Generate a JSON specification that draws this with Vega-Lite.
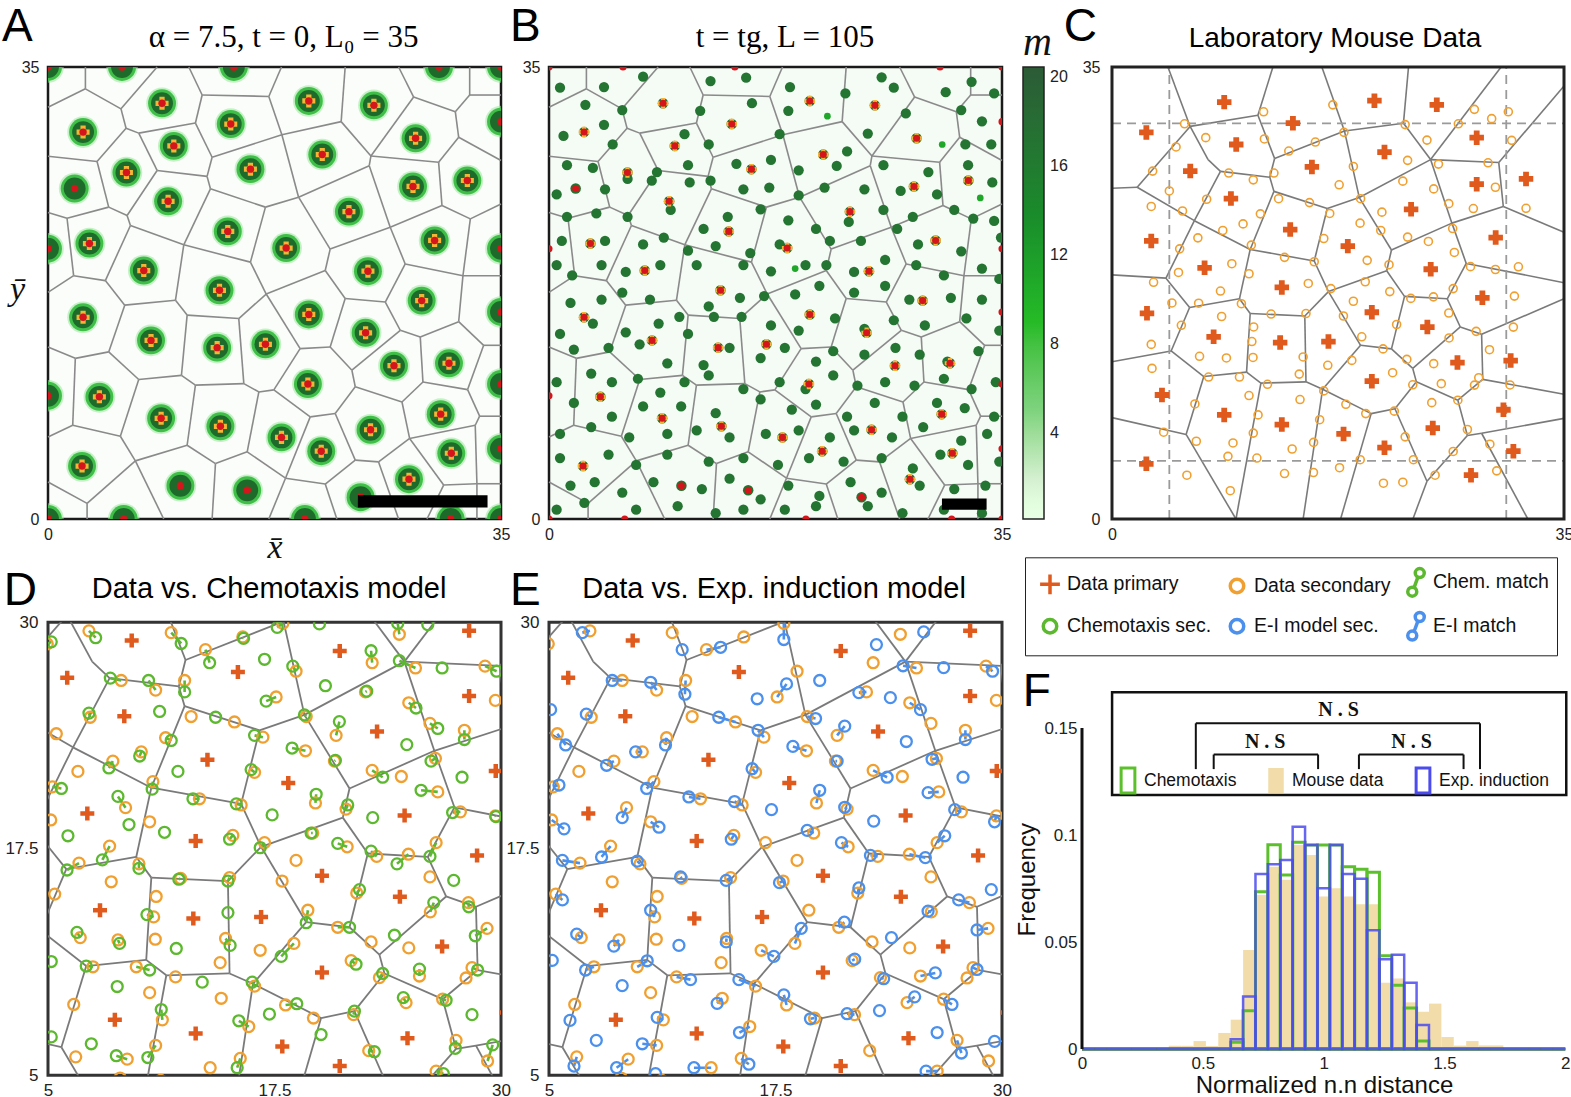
{
  "$schema": "https://vega.github.io/schema/vega-lite/v6.json",
  "usermeta": {"embedOptions": {"actions": false}},
  "autosize": {"type": "pad"},
  "padding": {"left": 0, "top": 3, "right": 4, "bottom": 4},
  "background": "white",
  "config": {
    "view": {"stroke": null},
    "font": "Liberation Sans",
    "axis": {"grid": false, "domain": false, "ticks": false, "labelFont": "Liberation Sans", "labelColor": "#222", "labelFontSize": 16, "titleColor": "#111", "labelFlush": false, "labelOverlap": false},
    "legend": {"padding": 0}
  },
  "datasets": {
    "edgesAB": [
      {"x":2.89,"y":35,"x2":2.89,"y2":33.31},{"x":2.89,"y":33.31,"x2":0,"y2":31.89},{"x":2.89,"y":33.31,"x2":5.64,"y2":31.76},{"x":8.43,"y":35,"x2":5.64,"y2":31.76},
      {"x":5.64,"y":31.76,"x2":6.03,"y2":30.26},{"x":6.03,"y":30.26,"x2":7.01,"y2":29.88},{"x":6.03,"y":30.26,"x2":3.79,"y2":27.68},{"x":3.79,"y":27.68,"x2":0,"y2":28.09},
      {"x":10.88,"y":35,"x2":11.91,"y2":32.83},{"x":11.91,"y":32.83,"x2":17.06,"y2":32.72},{"x":11.91,"y":32.83,"x2":11.39,"y2":30.66},{"x":11.39,"y":30.66,"x2":7.01,"y2":29.88},
      {"x":11.39,"y":30.66,"x2":12.68,"y2":28.01},{"x":7.01,"y":29.88,"x2":8.43,"y2":26.99},{"x":8.43,"y":26.99,"x2":12.29,"y2":26.53},{"x":12.68,"y":28.01,"x2":12.29,"y2":26.53},
      {"x":3.79,"y":27.68,"x2":4.69,"y2":24.15},{"x":4.69,"y":24.15,"x2":1.47,"y2":23.29},{"x":1.47,"y":23.29,"x2":0,"y2":23.74},{"x":1.47,"y":23.29,"x2":1.98,"y2":18.84},
      {"x":4.69,"y":24.15,"x2":6.11,"y2":23.5},{"x":8.43,"y":26.99,"x2":6.11,"y2":23.5},{"x":6.11,"y":23.5,"x2":6.37,"y2":22.73},{"x":6.37,"y":22.73,"x2":10.49,"y2":21.23},
      {"x":6.37,"y":22.73,"x2":4.43,"y2":18.46},{"x":1.98,"y":18.84,"x2":4.43,"y2":18.46},{"x":1.98,"y":18.84,"x2":0,"y2":17.55},{"x":12.29,"y":26.53,"x2":12.55,"y2":25.57},
      {"x":12.55,"y":25.57,"x2":16.8,"y2":24.15},{"x":12.55,"y":25.57,"x2":10.49,"y2":21.23},{"x":10.49,"y":21.23,"x2":15.64,"y2":19.89},{"x":16.8,"y":24.15,"x2":15.64,"y2":19.89},
      {"x":12.68,"y":28.01,"x2":18.07,"y2":29.75},{"x":17.06,"y":32.72,"x2":18.04,"y2":35},{"x":17.06,"y":32.72,"x2":18.07,"y2":29.75},{"x":22.96,"y":35,"x2":22.65,"y2":30.77},
      {"x":22.65,"y":30.77,"x2":18.07,"y2":29.75},{"x":22.65,"y":30.77,"x2":24.95,"y2":28.11},{"x":24.95,"y":28.11,"x2":24.82,"y2":27.36},{"x":24.82,"y":27.36,"x2":19.36,"y2":24.92},
      {"x":18.07,"y":29.75,"x2":19.36,"y2":24.92},{"x":27.09,"y":35,"x2":28.25,"y2":32.67},{"x":28.25,"y":32.67,"x2":24.95,"y2":28.11},{"x":28.25,"y":32.67,"x2":31.47,"y2":31.54},
      {"x":31.47,"y":31.54,"x2":32.58,"y2":32.83},{"x":32.58,"y":32.83,"x2":32.58,"y2":35},{"x":32.58,"y":32.83,"x2":35,"y2":32.83},{"x":31.47,"y":31.54,"x2":31.73,"y2":29.56},
      {"x":31.73,"y":29.56,"x2":35,"y2":27.76},{"x":31.73,"y":29.56,"x2":30.18,"y2":27.63},{"x":30.18,"y":27.63,"x2":24.95,"y2":28.11},{"x":30.18,"y":27.63,"x2":30.44,"y2":24.28},
      {"x":30.44,"y":24.28,"x2":32.63,"y2":23.24},{"x":32.63,"y":23.24,"x2":35,"y2":24.39},{"x":32.63,"y":23.24,"x2":32.06,"y2":18.84},{"x":32.06,"y":18.84,"x2":35,"y2":18.84},
      {"x":32.06,"y":18.84,"x2":27.6,"y2":19.75},{"x":30.44,"y":24.28,"x2":26.44,"y2":22.59},{"x":26.44,"y":22.59,"x2":24.82,"y2":27.36},{"x":26.44,"y":22.59,"x2":27.6,"y2":19.75},
      {"x":26.44,"y":22.59,"x2":21.8,"y2":20.9},{"x":21.8,"y":20.9,"x2":19.36,"y2":24.92},{"x":19.36,"y":24.92,"x2":16.8,"y2":24.15},{"x":21.8,"y":20.9,"x2":21.42,"y2":19.24},
      {"x":21.42,"y":19.24,"x2":16.86,"y2":17.42},{"x":16.86,"y":17.42,"x2":15.64,"y2":19.89},{"x":21.42,"y":19.24,"x2":22.96,"y2":17.07},{"x":16.86,"y":17.42,"x2":14.74,"y2":15.52},
      {"x":16.86,"y":17.42,"x2":19.48,"y2":13.19},{"x":22.96,"y":17.07,"x2":26.06,"y2":16.8},{"x":22.96,"y":17.07,"x2":21.8,"y2":13.32},{"x":26.06,"y":16.8,"x2":27.6,"y2":19.75},
      {"x":26.06,"y":16.8,"x2":27.22,"y2":14.61},{"x":21.8,"y":13.32,"x2":19.48,"y2":13.19},{"x":21.8,"y":13.32,"x2":23.48,"y2":11.52},{"x":27.22,"y":14.61,"x2":28.76,"y2":14.1},
      {"x":27.22,"y":14.61,"x2":23.48,"y2":11.52},{"x":19.48,"y":13.19,"x2":17.45,"y2":10},{"x":23.48,"y":11.52,"x2":23.74,"y2":10.24},{"x":28.76,"y":14.1,"x2":31.73,"y2":15.28},
      {"x":28.76,"y":14.1,"x2":28.97,"y2":10.61},{"x":31.73,"y":15.28,"x2":32.06,"y2":18.84},{"x":31.73,"y":15.28,"x2":33.66,"y2":13.45},{"x":33.66,"y":13.45,"x2":35,"y2":13.45},
      {"x":33.66,"y":13.45,"x2":32.42,"y2":10.02},{"x":28.97,"y":10.61,"x2":32.42,"y2":10.02},{"x":28.97,"y":10.61,"x2":27.35,"y2":9.06},{"x":32.42,"y":10.02,"x2":33.35,"y2":7.96},
      {"x":33.35,"y":7.96,"x2":35,"y2":7.96},{"x":33.35,"y":7.96,"x2":33.01,"y2":7.26},{"x":23.74,"y":10.24,"x2":27.35,"y2":9.06},{"x":23.74,"y":10.24,"x2":22.19,"y2":8.17},
      {"x":27.35,"y":9.06,"x2":27.94,"y2":6.24},{"x":33.01,"y":7.26,"x2":27.94,"y2":6.24},{"x":33.01,"y":7.26,"x2":33.14,"y2":2.73},{"x":27.94,"y":6.24,"x2":25.54,"y2":4.42},
      {"x":27.94,"y":6.24,"x2":30.57,"y2":2.63},{"x":33.14,"y":2.73,"x2":30.57,"y2":2.63},{"x":33.14,"y":2.73,"x2":35,"y2":2.73},{"x":33.14,"y":2.73,"x2":33.14,"y2":0},
      {"x":30.57,"y":2.63,"x2":29.28,"y2":0},{"x":25.54,"y":4.42,"x2":23.74,"y2":4.56},{"x":25.54,"y":4.42,"x2":27.09,"y2":0},{"x":22.19,"y":8.17,"x2":20.26,"y2":7.91},
      {"x":22.19,"y":8.17,"x2":23.74,"y2":4.56},{"x":23.74,"y":4.56,"x2":21.42,"y2":2.71},{"x":20.26,"y":7.91,"x2":17.45,"y2":10},{"x":20.26,"y":7.91,"x2":18.35,"y2":3.16},
      {"x":21.42,"y":2.71,"x2":18.35,"y2":3.16},{"x":21.42,"y":2.71,"x2":22.32,"y2":0},{"x":18.35,"y":3.16,"x2":15.39,"y2":5.2},{"x":18.35,"y":3.16,"x2":17.06,"y2":0},
      {"x":17.45,"y":10,"x2":16.29,"y2":9.84},{"x":4.43,"y":18.46,"x2":5.93,"y2":16.56},{"x":5.93,"y":16.56,"x2":9.85,"y2":16.94},{"x":5.93,"y":16.56,"x2":4.69,"y2":12.94},
      {"x":9.85,"y":16.94,"x2":10.49,"y2":21.23},{"x":9.85,"y":16.94,"x2":10.75,"y2":15.79},{"x":10.75,"y":15.79,"x2":14.74,"y2":15.52},{"x":10.75,"y":15.79,"x2":10.31,"y2":11.12},
      {"x":14.74,"y":15.52,"x2":15.13,"y2":10.48},{"x":4.69,"y":12.94,"x2":2.11,"y2":12.44},{"x":4.69,"y":12.94,"x2":7.01,"y2":10.8},{"x":2.11,"y":12.44,"x2":0,"y2":13.32},
      {"x":2.11,"y":12.44,"x2":1.91,"y2":7.26},{"x":7.01,"y":10.8,"x2":10.31,"y2":11.12},{"x":7.01,"y":10.8,"x2":5.59,"y2":6.41},{"x":10.31,"y":11.12,"x2":11.39,"y2":10.37},
      {"x":11.39,"y":10.37,"x2":15.13,"y2":10.48},{"x":11.39,"y":10.37,"x2":10.75,"y2":5.71},{"x":15.13,"y":10.48,"x2":16.29,"y2":9.84},{"x":16.29,"y":9.84,"x2":15.39,"y2":5.2},
      {"x":1.91,"y":7.26,"x2":5.59,"y2":6.41},{"x":1.91,"y":7.26,"x2":0,"y2":6.35},{"x":5.59,"y":6.41,"x2":6.75,"y2":4.5},{"x":10.75,"y":5.71,"x2":6.75,"y2":4.5},
      {"x":10.75,"y":5.71,"x2":12.94,"y2":4.29},{"x":6.75,"y":4.5,"x2":3.02,"y2":1.21},{"x":6.75,"y":4.5,"x2":8.94,"y2":0},{"x":12.94,"y":4.29,"x2":15.39,"y2":5.2},
      {"x":12.94,"y":4.29,"x2":12.68,"y2":0},{"x":3.02,"y":1.21,"x2":0,"y2":2.87},{"x":3.02,"y":1.21,"x2":3.02,"y2":0}
    ],
    "spotsAB": [
      {"x":0,"y":35,"k":"e"},{"x":35,"y":35,"k":"e"},{"x":0,"y":0,"k":"e"},{"x":35,"y":0,"k":"e"},
      {"x":5.72,"y":35,"k":"e"},{"x":14.36,"y":35,"k":"e"},{"x":30.21,"y":35,"k":"e"},
      {"x":5.85,"y":0,"k":"e"},{"x":19.85,"y":0,"k":"e"},{"x":31.11,"y":0,"k":"e"},
      {"x":0,"y":20.93,"k":"e"},{"x":0,"y":9.54,"k":"e"},
      {"x":35,"y":30.77,"k":"e"},{"x":35,"y":20.93,"k":"e"},{"x":35,"y":16.03,"k":"e"},{"x":35,"y":10.45,"k":"e"},{"x":35,"y":5.44,"k":"e"},
      {"x":8.81,"y":32.19,"k":"c"},{"x":20.15,"y":32.37,"k":"c"},{"x":25.18,"y":32.03,"k":"c"},{"x":2.71,"y":29.96,"k":"c"},{"x":14.12,"y":30.58,"k":"c"},
      {"x":28.4,"y":29.48,"k":"c"},{"x":9.72,"y":28.89,"k":"c"},{"x":21.19,"y":28.22,"k":"c"},{"x":6.06,"y":26.83,"k":"c"},{"x":15.64,"y":27.09,"k":"c"},
      {"x":28.2,"y":25.75,"k":"c"},{"x":32.4,"y":26.21,"k":"c"},{"x":9.28,"y":24.6,"k":"c"},{"x":23.25,"y":23.8,"k":"c"},{"x":13.89,"y":22.27,"k":"c"},
      {"x":29.87,"y":21.57,"k":"c"},{"x":3.2,"y":21.33,"k":"c"},{"x":18.4,"y":20.98,"k":"c"},{"x":7.4,"y":19.24,"k":"c"},{"x":24.72,"y":19.19,"k":"c"},
      {"x":13.25,"y":17.71,"k":"c"},{"x":28.87,"y":16.91,"k":"c"},{"x":2.71,"y":15.62,"k":"c"},{"x":20.15,"y":15.84,"k":"c"},{"x":24.54,"y":14.42,"k":"c"},
      {"x":7.96,"y":13.83,"k":"c"},{"x":13.07,"y":13.27,"k":"c"},{"x":16.8,"y":13.53,"k":"c"},{"x":26.73,"y":11.87,"k":"c"},{"x":30.98,"y":12.06,"k":"c"},
      {"x":3.97,"y":9.46,"k":"c"},{"x":20.08,"y":10.45,"k":"c"},{"x":8.74,"y":7.8,"k":"c"},{"x":30.34,"y":8.12,"k":"c"},{"x":13.32,"y":7.18,"k":"c"},
      {"x":18.04,"y":6.32,"k":"c"},{"x":24.92,"y":6.91,"k":"c"},{"x":21.11,"y":5.25,"k":"c"},{"x":31.16,"y":5.09,"k":"c"},{"x":2.63,"y":4.1,"k":"c"},
      {"x":27.89,"y":3.08,"k":"c"},
      {"x":2.06,"y":25.59,"k":"r"},{"x":10.23,"y":2.57,"k":"r"},{"x":15.39,"y":2.22,"k":"r"},{"x":24.15,"y":1.69,"k":"r"}
    ],
    "dotsB": [
      {"x":0.85,"y":33.4,"m":17},{"x":4.25,"y":33.45,"m":17},{"x":7.27,"y":34.25,"m":17},{"x":12.48,"y":33.91,"m":17},{"x":15.23,"y":34.17,"m":17},{"x":18.62,"y":33.45,"m":17},
      {"x":22.9,"y":32.95,"m":17},{"x":25.7,"y":34.2,"m":17},{"x":26.64,"y":33.4,"m":17},{"x":30.65,"y":33.05,"m":17},{"x":32.65,"y":33.85,"m":17},{"x":34.39,"y":32.95,"m":17},
      {"x":2.81,"y":32.07,"m":17},{"x":5.66,"y":31.67,"m":17},{"x":11.68,"y":31.61,"m":17},{"x":15.68,"y":32.2,"m":17},{"x":18.49,"y":31.61,"m":17},{"x":21.51,"y":31.19,"m":11},
      {"x":27.57,"y":31.4,"m":17},{"x":31.85,"y":31.67,"m":17},{"x":33.45,"y":30.79,"m":17},
      {"x":1.12,"y":29.66,"m":17},{"x":4.25,"y":30.52,"m":17},{"x":4.92,"y":29.0,"m":17},{"x":10.47,"y":29.8,"m":17},{"x":12.34,"y":29.0,"m":17},{"x":17.82,"y":29.8,"m":17},
      {"x":23.03,"y":28.46,"m":17},{"x":24.63,"y":29.85,"m":17},{"x":30.38,"y":29.0,"m":11},{"x":32.17,"y":29.0,"m":17},{"x":34.17,"y":29.0,"m":17},
      {"x":1.39,"y":27.4,"m":17},{"x":3.39,"y":27.18,"m":17},{"x":8.34,"y":26.86,"m":17},{"x":10.74,"y":27.4,"m":17},{"x":14.48,"y":27.5,"m":17},{"x":17.15,"y":27.8,"m":17},
      {"x":19.29,"y":27.0,"m":17},{"x":22.23,"y":27.34,"m":17},{"x":25.84,"y":27.4,"m":17},{"x":29.31,"y":26.86,"m":17},{"x":32.38,"y":27.4,"m":17},{"x":34.25,"y":26.06,"m":17},
      {"x":0.59,"y":25.13,"m":17},{"x":4.33,"y":25.53,"m":17},{"x":6.07,"y":26.33,"m":17},{"x":7.94,"y":26.2,"m":17},{"x":10.87,"y":26.06,"m":17},{"x":12.48,"y":26.2,"m":17},
      {"x":15.02,"y":25.53,"m":17},{"x":17.02,"y":25.66,"m":17},{"x":19.29,"y":25.05,"m":17},{"x":21.29,"y":25.66,"m":17},{"x":24.37,"y":25.53,"m":17},{"x":27.17,"y":25.4,"m":17},
      {"x":29.98,"y":25.13,"m":17},{"x":33.32,"y":24.86,"m":11},{"x":32.78,"y":23.26,"m":17},
      {"x":1.39,"y":23.4,"m":17},{"x":3.66,"y":23.66,"m":17},{"x":6.07,"y":23.4,"m":17},{"x":9.4,"y":23.93,"m":17},{"x":11.94,"y":22.46,"m":17},{"x":13.81,"y":23.4,"m":17},
      {"x":16.35,"y":23.98,"m":17},{"x":18.49,"y":23.13,"m":17},{"x":20.63,"y":22.46,"m":17},{"x":23.16,"y":23.0,"m":17},{"x":25.84,"y":23.93,"m":17},{"x":28.11,"y":23.4,"m":17},
      {"x":31.31,"y":23.93,"m":17},{"x":34.39,"y":23.08,"m":17},
      {"x":0.99,"y":21.53,"m":17},{"x":4.33,"y":21.53,"m":17},{"x":7.27,"y":21.26,"m":17},{"x":8.87,"y":21.79,"m":17},{"x":10.74,"y":20.78,"m":17},{"x":12.88,"y":21.13,"m":17},
      {"x":15.55,"y":20.59,"m":17},{"x":17.82,"y":21.26,"m":17},{"x":19.82,"y":19.66,"m":17},{"x":21.7,"y":21.53,"m":17},{"x":24.1,"y":21.53,"m":17},{"x":26.9,"y":22.46,"m":17},
      {"x":28.51,"y":21.26,"m":17},{"x":31.85,"y":20.73,"m":17},{"x":34.92,"y":21.79,"m":17},
      {"x":0.59,"y":19.66,"m":17},{"x":1.79,"y":18.86,"m":17},{"x":4.06,"y":19.66,"m":17},{"x":5.93,"y":19.13,"m":17},{"x":8.6,"y":19.66,"m":17},{"x":11.41,"y":19.66,"m":17},
      {"x":15.02,"y":19.66,"m":17},{"x":17.15,"y":19.18,"m":17},{"x":19.02,"y":19.39,"m":11},{"x":21.43,"y":19.66,"m":17},{"x":23.57,"y":19.13,"m":17},{"x":25.97,"y":20.06,"m":17},
      {"x":28.37,"y":19.66,"m":17},{"x":30.51,"y":18.86,"m":17},{"x":33.45,"y":19.39,"m":17},{"x":34.79,"y":18.59,"m":17},
      {"x":1.66,"y":16.73,"m":17},{"x":4.06,"y":16.99,"m":17},{"x":5.66,"y":17.53,"m":17},{"x":7.8,"y":16.99,"m":17},{"x":10.07,"y":15.66,"m":17},{"x":12.34,"y":16.46,"m":17},
      {"x":14.75,"y":17.13,"m":17},{"x":16.62,"y":17.26,"m":17},{"x":19.02,"y":17.39,"m":17},{"x":20.89,"y":18.06,"m":17},{"x":23.57,"y":17.53,"m":17},{"x":25.97,"y":18.06,"m":17},
      {"x":27.84,"y":16.99,"m":17},{"x":31.05,"y":17.13,"m":17},{"x":33.45,"y":16.99,"m":17},
      {"x":0.85,"y":14.33,"m":17},{"x":3.39,"y":15.13,"m":17},{"x":5.93,"y":14.46,"m":17},{"x":8.47,"y":15.13,"m":17},{"x":10.74,"y":14.33,"m":17},{"x":12.74,"y":15.66,"m":17},
      {"x":14.88,"y":15.66,"m":17},{"x":17.15,"y":14.99,"m":17},{"x":19.29,"y":14.59,"m":17},{"x":22.1,"y":15.53,"m":17},{"x":24.37,"y":14.73,"m":17},{"x":26.64,"y":15.39,"m":17},
      {"x":29.04,"y":14.99,"m":17},{"x":32.25,"y":15.53,"m":17},{"x":34.79,"y":14.59,"m":17},
      {"x":1.92,"y":13.12,"m":17},{"x":4.6,"y":13.26,"m":17},{"x":7.0,"y":13.53,"m":17},{"x":9.14,"y":12.06,"m":17},{"x":11.94,"y":11.92,"m":17},{"x":13.95,"y":13.26,"m":17},
      {"x":16.35,"y":12.46,"m":17},{"x":18.22,"y":13.26,"m":17},{"x":20.63,"y":12.19,"m":17},{"x":21.96,"y":12.99,"m":17},{"x":24.37,"y":12.72,"m":17},{"x":26.77,"y":13.26,"m":17},
      {"x":28.64,"y":12.72,"m":17},{"x":30.78,"y":12.19,"m":17},{"x":33.18,"y":12.99,"m":17},
      {"x":0.59,"y":10.59,"m":17},{"x":3.26,"y":11.26,"m":17},{"x":4.86,"y":10.59,"m":17},{"x":6.87,"y":10.86,"m":17},{"x":8.6,"y":9.79,"m":17},{"x":10.47,"y":10.59,"m":17},
      {"x":12.34,"y":11.12,"m":17},{"x":15.02,"y":10.06,"m":17},{"x":17.82,"y":10.59,"m":17},{"x":19.82,"y":10.06,"m":17},{"x":21.96,"y":11.12,"m":17},{"x":23.83,"y":10.32,"m":17},
      {"x":25.97,"y":10.59,"m":17},{"x":28.24,"y":10.32,"m":17},{"x":30.51,"y":10.86,"m":17},{"x":32.65,"y":10.06,"m":17},{"x":34.52,"y":10.59,"m":17},
      {"x":1.92,"y":8.99,"m":17},{"x":4.86,"y":7.92,"m":17},{"x":7.27,"y":8.72,"m":17},{"x":10.21,"y":8.72,"m":17},{"x":12.88,"y":8.19,"m":17},{"x":16.35,"y":9.26,"m":17},
      {"x":18.76,"y":8.46,"m":17},{"x":20.63,"y":8.86,"m":17},{"x":23.03,"y":7.92,"m":17},{"x":25.17,"y":8.99,"m":17},{"x":27.31,"y":7.92,"m":17},{"x":29.98,"y":8.99,"m":17},
      {"x":32.12,"y":8.59,"m":17},{"x":34.39,"y":7.92,"m":17},
      {"x":0.85,"y":6.59,"m":17},{"x":3.26,"y":7.12,"m":17},{"x":6.2,"y":6.32,"m":17},{"x":9.14,"y":6.59,"m":17},{"x":11.41,"y":6.86,"m":17},{"x":13.95,"y":6.32,"m":17},
      {"x":16.75,"y":6.59,"m":17},{"x":19.29,"y":6.86,"m":17},{"x":21.7,"y":6.32,"m":17},{"x":23.57,"y":6.86,"m":17},{"x":26.5,"y":6.32,"m":17},{"x":28.91,"y":7.12,"m":17},
      {"x":31.85,"y":6.06,"m":17},{"x":33.85,"y":6.59,"m":17},
      {"x":0.85,"y":4.72,"m":17},{"x":4.6,"y":4.99,"m":17},{"x":6.73,"y":4.19,"m":17},{"x":9.14,"y":4.99,"m":17},{"x":12.34,"y":4.45,"m":17},{"x":15.02,"y":4.72,"m":17},
      {"x":17.69,"y":4.19,"m":17},{"x":20.09,"y":4.72,"m":17},{"x":22.76,"y":4.45,"m":17},{"x":25.7,"y":4.72,"m":17},{"x":28.11,"y":3.92,"m":17},{"x":30.24,"y":4.99,"m":17},
      {"x":32.38,"y":4.19,"m":17},{"x":34.79,"y":4.45,"m":17},
      {"x":1.66,"y":2.59,"m":17},{"x":3.53,"y":2.85,"m":17},{"x":5.66,"y":2.05,"m":17},{"x":8.07,"y":2.85,"m":17},{"x":11.81,"y":2.32,"m":17},{"x":13.95,"y":3.12,"m":17},
      {"x":16.35,"y":1.52,"m":17},{"x":18.49,"y":2.59,"m":17},{"x":20.89,"y":1.79,"m":17},{"x":23.3,"y":2.85,"m":17},{"x":25.7,"y":2.05,"m":17},{"x":28.64,"y":2.59,"m":17},
      {"x":31.31,"y":2.32,"m":17},{"x":33.72,"y":2.59,"m":17},
      {"x":0.59,"y":0.72,"m":17},{"x":2.73,"y":1.25,"m":17},{"x":6.73,"y":0.72,"m":17},{"x":9.94,"y":0.99,"m":17},{"x":12.88,"y":0.45,"m":17},{"x":15.02,"y":0.72,"m":17},
      {"x":18.22,"y":0.72,"m":17},{"x":20.63,"y":0.99,"m":17},{"x":24.63,"y":0.99,"m":17},{"x":27.31,"y":0.45,"m":17},{"x":30.51,"y":0.72,"m":17},{"x":33.45,"y":0.45,"m":17}
    ],
    "mP": [
      {"x":8.69,"y":32.28},{"x":20.32,"y":32.39},{"x":25.15,"y":32.07},{"x":2.66,"y":29.93},{"x":14.01,"y":30.65},{"x":28.24,"y":29.53},
      {"x":9.62,"y":29.0},{"x":21.1,"y":28.41},{"x":6.06,"y":26.94},{"x":15.48,"y":27.26},{"x":32.06,"y":26.33},{"x":28.24,"y":25.93},
      {"x":9.21,"y":24.81},{"x":23.16,"y":23.98},{"x":13.8,"y":22.41},{"x":29.71,"y":21.79},{"x":3.04,"y":21.53},{"x":18.26,"y":21.13},
      {"x":7.17,"y":19.45},{"x":24.68,"y":19.34},{"x":13.15,"y":17.93},{"x":28.68,"y":17.13},{"x":2.71,"y":15.93},{"x":20.12,"y":16.01},
      {"x":24.42,"y":14.86},{"x":7.87,"y":14.11},{"x":13.02,"y":13.66},{"x":16.76,"y":13.74},{"x":26.75,"y":12.11},{"x":30.87,"y":12.27},
      {"x":20.12,"y":10.67},{"x":3.87,"y":9.6},{"x":8.69,"y":8.06},{"x":30.31,"y":8.46},{"x":13.15,"y":7.31},{"x":17.93,"y":6.59},
      {"x":24.84,"y":7.04},{"x":21.1,"y":5.52},{"x":31.08,"y":5.25},{"x":2.66,"y":4.27},{"x":27.8,"y":3.39}
    ],
    "mS": [
      {"x":4.96,"y":28.81},{"x":7.26,"y":29.53},{"x":11.8,"y":29.43},{"x":15.75,"y":29.19},{"x":17.96,"y":29.94},{"x":24.39,"y":29.34},{"x":13.69,"y":28.49},{"x":18.69,"y":27.3},
      {"x":22.89,"y":27.77},{"x":25.28,"y":27.48},{"x":29.12,"y":27.58},{"x":9.04,"y":26.79},{"x":10.94,"y":26.26},{"x":12.54,"y":26.79},{"x":22.52,"y":26.16},{"x":17.59,"y":25.88},
      {"x":29.69,"y":25.69},{"x":7.33,"y":24.76},{"x":12.9,"y":24.8},{"x":15.29,"y":24.5},{"x":19.25,"y":24.8},{"x":24.91,"y":25.56},{"x":26.08,"y":24.42},{"x":27.98,"y":24.04},
      {"x":5.46,"y":23.85},{"x":20.9,"y":23.76},{"x":11.49,"y":23.63},{"x":16.86,"y":23.66},{"x":19.21,"y":22.91},{"x":10.15,"y":22.85},{"x":8.58,"y":22.34},{"x":6.65,"y":21.77},
      {"x":16.4,"y":21.72},{"x":20.81,"y":22.34},{"x":26.38,"y":22.49},{"x":22.89,"y":21.83},{"x":24.5,"y":21.49},{"x":5.24,"y":20.92},{"x":10.79,"y":21.21},{"x":26.51,"y":20.64},
      {"x":9.28,"y":19.77},{"x":13.36,"y":20.26},{"x":15.66,"y":19.92},{"x":19.76,"y":20.03},{"x":21.45,"y":19.69},{"x":27.76,"y":19.54},{"x":29.69,"y":19.32},{"x":5.15,"y":19.09},
      {"x":10.61,"y":18.99},{"x":15.2,"y":18.24},{"x":19.61,"y":18.37},{"x":21.51,"y":17.61},{"x":26.42,"y":17.84},{"x":8.4,"y":17.65},{"x":16.95,"y":17.84},{"x":23.14,"y":17.08},
      {"x":6.71,"y":16.71},{"x":10.02,"y":16.67},{"x":18.69,"y":16.86},{"x":24.89,"y":17.2},{"x":8.49,"y":15.68},{"x":5.37,"y":15.0},{"x":10.97,"y":14.87},{"x":12.32,"y":15.87},
      {"x":15.02,"y":15.91},{"x":17.92,"y":15.72},{"x":26.08,"y":15.95},{"x":22.04,"y":15.06},{"x":26.1,"y":14.02},{"x":28.2,"y":14.53},{"x":10.83,"y":13.74},{"x":19.34,"y":14.11},
      {"x":20.99,"y":13.17},{"x":6.78,"y":12.6},{"x":8.86,"y":12.47},{"x":10.92,"y":12.51},{"x":14.8,"y":12.55},{"x":18.57,"y":12.28},{"x":22.83,"y":12.36},{"x":24.91,"y":12.03},
      {"x":29.23,"y":13.11},{"x":16.71,"y":11.9},{"x":7.48,"y":10.99},{"x":9.87,"y":10.99},{"x":14.5,"y":11.22},{"x":21.73,"y":11.33},{"x":23.29,"y":10.39},{"x":25.5,"y":10.48},
      {"x":28.4,"y":10.94},{"x":28.07,"y":10.37},{"x":12.04,"y":10.43},{"x":10.61,"y":9.56},{"x":16.4,"y":9.92},{"x":14.56,"y":9.25},{"x":6.42,"y":8.91},{"x":18.11,"y":8.88},
      {"x":24.76,"y":9.01},{"x":26.78,"y":9.2},{"x":11.31,"y":8.06},{"x":19.65,"y":8.16},{"x":21.86,"y":8.35},{"x":16.08,"y":7.69},{"x":10.94,"y":6.65},{"x":27.52,"y":6.93},
      {"x":29.26,"y":5.79},{"x":6.53,"y":6.02},{"x":9.37,"y":5.89},{"x":15.61,"y":5.93},{"x":13.95,"y":5.42},{"x":22.7,"y":6.36},{"x":26.42,"y":5.23},
      {"x":11.74,"y":31.53},{"x":17.1,"y":32.07},{"x":28.06,"y":31.72},{"x":29.4,"y":31.0},{"x":30.69,"y":31.53},{"x":5.62,"y":30.6},{"x":26.82,"y":30.6},{"x":22.7,"y":30.54},
      {"x":30.95,"y":29.32},{"x":32.06,"y":24.06},{"x":31.47,"y":19.53},{"x":31.16,"y":17.26},{"x":31.08,"y":14.86},{"x":30.82,"y":10.38},{"x":3.15,"y":26.94},{"x":4.44,"y":25.4},
      {"x":3.04,"y":24.2},{"x":3.22,"y":18.33},{"x":4.64,"y":16.73},{"x":3.04,"y":13.52},{"x":3.1,"y":11.66},{"x":4.0,"y":6.72},{"x":5.8,"y":3.39},{"x":9.16,"y":2.19},
      {"x":13.36,"y":3.52},{"x":15.6,"y":3.6},{"x":17.62,"y":3.97},{"x":19.22,"y":4.59},{"x":21.02,"y":2.77},{"x":22.52,"y":2.85},{"x":25.02,"y":3.39},{"x":23.34,"y":4.59},
      {"x":29.79,"y":3.73},{"x":8.98,"y":4.85},{"x":11.22,"y":4.72}
    ],
    "chem": [
      {"x":5.18,"y":28.92,"mx":4.96,"my":28.81},{"x":7.63,"y":29.15,"mx":7.26,"my":29.53},{"x":12.35,"y":28.83,"mx":11.8,"my":29.43},{"x":15.79,"y":29.11,"mx":15.75,"my":29.19},
      {"x":17.65,"y":29.72,"mx":17.96,"my":29.94},{"x":24.3,"y":29.94,"mx":24.39,"my":29.34},{"x":13.92,"y":27.77,"mx":13.69,"my":28.49},{"x":18.51,"y":27.58,"mx":18.69,"my":27.3},
      {"x":22.83,"y":28.43,"mx":22.89,"my":27.77},{"x":24.39,"y":27.88,"mx":25.28,"my":27.48},{"x":29.76,"y":27.3,"mx":29.12,"my":27.58},{"x":8.44,"y":26.92,"mx":9.04,"my":26.79},
      {"x":10.55,"y":26.79,"mx":10.94,"my":26.26},{"x":12.54,"y":26.16,"mx":12.54,"my":26.79},{"x":22.59,"y":26.2,"mx":22.52,"my":26.16},{"x":17.04,"y":25.65,"mx":17.59,"my":25.88},
      {"x":7.26,"y":24.99,"mx":7.33,"my":24.76},{"x":19.15,"y":24.89,"mx":19.25,"my":24.8},{"x":25.31,"y":25.27,"mx":24.91,"my":25.56},{"x":26.51,"y":24.14,"mx":26.08,"my":24.42},
      {"x":27.98,"y":23.53,"mx":27.98,"my":24.04},{"x":21.08,"y":24.52,"mx":20.9,"my":23.76},{"x":11.8,"y":23.48,"mx":11.49,"my":23.63},{"x":16.4,"y":23.76,"mx":16.86,"my":23.66},
      {"x":18.47,"y":23.06,"mx":19.21,"my":22.91},{"x":10.06,"y":22.62,"mx":10.15,"my":22.85},{"x":8.36,"y":21.96,"mx":8.58,"my":22.34},{"x":16.21,"y":21.87,"mx":16.4,"my":21.72},
      {"x":20.86,"y":22.38,"mx":20.81,"my":22.34},{"x":26.14,"y":22.34,"mx":26.38,"my":22.49},{"x":23.47,"y":21.45,"mx":22.89,"my":21.83},{"x":5.74,"y":20.83,"mx":5.24,"my":20.92},
      {"x":10.75,"y":20.79,"mx":10.79,"my":21.21},{"x":25.59,"y":20.73,"mx":26.51,"my":20.64},{"x":8.86,"y":20.39,"mx":9.28,"my":19.77},{"x":13.0,"y":20.26,"mx":13.36,"my":20.26},
      {"x":15.39,"y":19.98,"mx":15.66,"my":19.92},{"x":19.8,"y":20.51,"mx":19.76,"my":20.03},{"x":21.54,"y":19.92,"mx":21.45,"my":19.69},{"x":27.33,"y":19.5,"mx":27.76,"my":19.54},
      {"x":29.72,"y":19.28,"mx":29.69,"my":19.32},{"x":15.02,"y":18.03,"mx":15.2,"my":18.24},{"x":19.52,"y":18.37,"mx":19.61,"my":18.37},{"x":20.99,"y":17.8,"mx":21.51,"my":17.61},
      {"x":26.08,"y":17.08,"mx":26.42,"my":17.84},{"x":8.0,"y":16.89,"mx":8.4,"my":17.65},{"x":16.71,"y":17.56,"mx":16.95,"my":17.84},{"x":22.83,"y":17.37,"mx":23.14,"my":17.08},
      {"x":6.05,"y":16.33,"mx":6.71,"my":16.71},{"x":10.02,"y":16.42,"mx":10.02,"my":16.67},{"x":24.26,"y":16.67,"mx":24.89,"my":17.2},{"x":12.22,"y":15.82,"mx":12.32,"my":15.87},
      {"x":14.93,"y":15.72,"mx":15.02,"my":15.91},{"x":22.19,"y":15.25,"mx":22.04,"my":15.06},{"x":26.29,"y":14.53,"mx":26.1,"my":14.02},{"x":28.22,"y":14.3,"mx":28.2,"my":14.53},
      {"x":10.46,"y":13.87,"mx":10.83,"my":13.74},{"x":19.25,"y":13.42,"mx":19.34,"my":14.11},{"x":21.64,"y":13.17,"mx":20.99,"my":13.17},{"x":6.6,"y":12.89,"mx":6.78,"my":12.6},
      {"x":8.95,"y":12.28,"mx":8.86,"my":12.47},{"x":15.05,"y":12.17,"mx":14.8,"my":12.55},{"x":17.87,"y":11.56,"mx":18.57,"my":12.28},{"x":28.58,"y":12.7,"mx":29.23,"my":13.11},
      {"x":7.11,"y":11.03,"mx":7.48,"my":10.99},{"x":10.61,"y":10.81,"mx":9.87,"my":10.99},{"x":22.0,"y":11.13,"mx":21.73,"my":11.33},{"x":23.47,"y":10.62,"mx":23.29,"my":10.39},
      {"x":25.5,"y":10.86,"mx":25.5,"my":10.48},{"x":28.71,"y":10.81,"mx":28.4,"my":10.94},{"x":16.27,"y":10.14,"mx":16.4,"my":9.92},{"x":18.73,"y":8.95,"mx":18.11,"my":8.88},
      {"x":24.61,"y":9.29,"mx":24.76,"my":9.01},{"x":26.97,"y":9.14,"mx":26.78,"my":9.2},{"x":11.25,"y":8.63,"mx":11.31,"my":8.06},{"x":21.91,"y":8.54,"mx":21.86,"my":8.35},
      {"x":15.53,"y":8.01,"mx":16.08,"my":7.69},{"x":10.51,"y":5.98,"mx":10.94,"my":6.65},{"x":27.48,"y":6.49,"mx":27.52,"my":6.93},{"x":29.54,"y":6.68,"mx":29.26,"my":5.79},
      {"x":8.77,"y":6.08,"mx":9.37,"my":5.89},{"x":15.44,"y":5.42,"mx":15.61,"my":5.93},{"x":23.01,"y":6.3,"mx":22.7,"my":6.36},{"x":26.82,"y":5.09,"mx":26.42,"my":5.23},
      {"x":19.98,"y":29.91},{"x":16.95,"y":27.96},{"x":26.75,"y":27.48},{"x":20.31,"y":26.5},{"x":11.16,"y":25.08},{"x":14.25,"y":24.76},{"x":24.8,"y":23.25},{"x":12.17,"y":21.77},
      {"x":27.85,"y":21.45},{"x":9.47,"y":18.84},{"x":17.37,"y":19.37},{"x":22.92,"y":19.22},{"x":6.1,"y":18.22},{"x":11.43,"y":18.41},{"x":27.39,"y":15.76},{"x":14.93,"y":13.98},
      {"x":24.12,"y":12.73},{"x":5.18,"y":11.28},{"x":12.08,"y":12.0},{"x":8.82,"y":9.9},{"x":13.51,"y":10.14},{"x":17.22,"y":8.38},{"x":28.4,"y":8.35},{"x":5.18,"y":7.12},
      {"x":7.39,"y":6.74},{"x":20.07,"y":7.25},{"x":25.96,"y":29.87}
    ],
    "ei": [
      {"x":6.84,"y":29.43,"mx":7.26,"my":29.53},{"x":14.47,"y":28.62,"mx":13.69,"my":28.49},{"x":17.96,"y":29.05,"mx":17.96,"my":29.94},{"x":8.49,"y":26.79,"mx":9.04,"my":26.79},
      {"x":10.61,"y":26.69,"mx":10.94,"my":26.26},{"x":12.5,"y":26.03,"mx":12.54,"my":26.79},{"x":18.11,"y":26.6,"mx":17.59,"my":25.88},{"x":24.54,"y":27.6,"mx":25.28,"my":27.48},
      {"x":29.48,"y":27.3,"mx":29.12,"my":27.58},{"x":7.06,"y":24.93,"mx":7.33,"my":24.76},{"x":14.37,"y":24.76,"mx":15.29,"my":24.5},{"x":16.54,"y":24.04,"mx":16.86,"my":23.66},
      {"x":19.71,"y":24.69,"mx":19.25,"my":24.8},{"x":22.1,"y":26.12,"mx":22.52,"my":26.16},{"x":25.5,"y":25.18,"mx":24.91,"my":25.56},{"x":27.98,"y":23.53,"mx":27.98,"my":24.04},
      {"x":5.92,"y":23.23,"mx":5.46,"my":23.85},{"x":9.78,"y":22.85,"mx":10.15,"my":22.85},{"x":11.43,"y":23.23,"mx":11.49,"my":23.63},{"x":18.46,"y":23.15,"mx":19.21,"my":22.91},
      {"x":21.32,"y":24.27,"mx":20.9,"my":23.76},{"x":8.18,"y":22.11,"mx":8.58,"my":22.34},{"x":5.55,"y":21.02,"mx":5.24,"my":20.92},{"x":16.21,"y":21.92,"mx":16.4,"my":21.72},
      {"x":20.9,"y":22.34,"mx":20.81,"my":22.34},{"x":23.66,"y":21.45,"mx":22.89,"my":21.83},{"x":26.14,"y":22.44,"mx":26.38,"my":22.49},{"x":10.39,"y":20.83,"mx":10.79,"my":21.21},
      {"x":12.72,"y":20.36,"mx":13.36,"my":20.26},{"x":15.24,"y":20.11,"mx":15.66,"my":19.92},{"x":25.92,"y":20.6,"mx":26.51,"my":20.64},{"x":19.94,"y":20.73,"mx":19.76,"my":20.03},
      {"x":21.32,"y":19.79,"mx":21.45,"my":19.69},{"x":9.04,"y":19.22,"mx":9.28,"my":19.77},{"x":27.39,"y":19.66,"mx":27.76,"my":19.54},{"x":29.59,"y":18.99,"mx":29.69,"my":19.32},
      {"x":5.83,"y":18.6,"mx":5.15,"my":19.09},{"x":11.07,"y":18.69,"mx":10.61,"my":18.99},{"x":15.06,"y":18.03,"mx":15.2,"my":18.24},{"x":19.25,"y":18.52,"mx":19.61,"my":18.37},
      {"x":21.14,"y":17.84,"mx":21.51,"my":17.61},{"x":26.84,"y":18.22,"mx":26.42,"my":17.84},{"x":7.9,"y":17.05,"mx":8.4,"my":17.65},{"x":5.74,"y":16.86,"mx":6.71,"my":16.71},
      {"x":9.87,"y":16.82,"mx":10.02,"my":16.67},{"x":22.74,"y":17.14,"mx":23.14,"my":17.08},{"x":25.77,"y":17.01,"mx":24.89,"my":17.2},{"x":12.26,"y":15.95,"mx":12.32,"my":15.87},
      {"x":14.78,"y":15.76,"mx":15.02,"my":15.91},{"x":17.72,"y":15.63,"mx":17.92,"my":15.72},{"x":5.74,"y":14.68,"mx":5.37,"my":15.0},{"x":22.1,"y":15.34,"mx":22.04,"my":15.06},
      {"x":27.61,"y":14.68,"mx":28.2,"my":14.53},{"x":10.61,"y":14.11,"mx":10.83,"my":13.74},{"x":25.92,"y":14.06,"mx":26.1,"my":14.02},{"x":6.53,"y":12.79,"mx":6.78,"my":12.6},
      {"x":8.58,"y":12.13,"mx":8.86,"my":12.47},{"x":14.78,"y":12.36,"mx":14.8,"my":12.55},{"x":18.92,"y":13.11,"mx":18.57,"my":12.28},{"x":21.3,"y":13.45,"mx":20.99,"my":13.17},
      {"x":28.62,"y":13.02,"mx":29.23,"my":13.11},{"x":10.42,"y":11.32,"mx":9.87,"my":10.99},{"x":17.41,"y":11.56,"mx":16.71,"my":11.9},{"x":21.87,"y":11.41,"mx":21.73,"my":11.33},
      {"x":7.02,"y":10.81,"mx":7.48,"my":10.99},{"x":12.81,"y":10.28,"mx":12.04,"my":10.43},{"x":15.48,"y":10.28,"mx":16.4,"my":9.92},{"x":23.47,"y":10.33,"mx":23.29,"my":10.39},
      {"x":26.32,"y":10.65,"mx":25.5,"my":10.48},{"x":28.62,"y":10.84,"mx":28.4,"my":10.94},{"x":17.96,"y":9.44,"mx":18.11,"my":8.88},{"x":14.28,"y":8.97,"mx":14.56,"my":9.25},
      {"x":25.18,"y":9.33,"mx":24.76,"my":9.01},{"x":27.24,"y":8.91,"mx":26.78,"my":9.2},{"x":10.97,"y":8.2,"mx":11.31,"my":8.06},{"x":19.43,"y":8.12,"mx":19.65,"my":8.16},
      {"x":21.45,"y":8.4,"mx":21.86,"my":8.35},{"x":10.15,"y":6.74,"mx":10.94,"my":6.65},{"x":15.51,"y":7.36,"mx":16.08,"my":7.69},{"x":27.76,"y":6.23,"mx":27.52,"my":6.93},
      {"x":6.38,"y":5.51,"mx":6.53,"my":6.02},{"x":8.73,"y":5.42,"mx":9.37,"my":5.89},{"x":16.03,"y":5.61,"mx":15.61,"my":5.93},{"x":13.0,"y":5.42,"mx":13.95,"my":5.42},
      {"x":25.81,"y":5.23,"mx":26.42,"my":5.23},
      {"x":12.35,"y":28.49},{"x":23.07,"y":28.77},{"x":25.68,"y":29.47},{"x":5.09,"y":25.18},{"x":16.49,"y":25.78},{"x":19.94,"y":26.79},{"x":23.84,"y":25.84},{"x":26.78,"y":27.5},
      {"x":24.72,"y":23.42},{"x":27.85,"y":21.45},{"x":17.28,"y":19.66},{"x":22.92,"y":19.03},{"x":29.41,"y":15.25},{"x":12.17,"y":12.17},{"x":23.9,"y":12.6},{"x":5.18,"y":11.34},
      {"x":9.04,"y":9.95},{"x":6.16,"y":8.03},{"x":23.24,"y":8.57},{"x":7.61,"y":6.93},{"x":26.42,"y":7.36},{"x":29.59,"y":6.87},{"x":10.88,"y":5.09}
    ],
    "edgesC": [
      {"x":6.05,"y":30.4,"x2":7.44,"y2":27.83},{"x":7.44,"y":27.83,"x2":8.4,"y2":26.92},{"x":8.4,"y":26.92,"x2":6.38,"y2":23.1},{"x":8.4,"y":26.92,"x2":12.22,"y2":26.46},
      {"x":12.22,"y":26.46,"x2":12.59,"y2":27.92},{"x":12.22,"y":26.46,"x2":12.54,"y2":25.37},{"x":12.59,"y":27.92,"x2":11.3,"y2":31.27},{"x":12.59,"y":27.92,"x2":18.0,"y2":30.05},
      {"x":12.54,"y":25.37,"x2":16.67,"y2":24.04},{"x":12.54,"y":25.37,"x2":10.7,"y2":20.87},{"x":16.67,"y":24.04,"x2":19.15,"y2":24.89},{"x":16.67,"y":24.04,"x2":15.66,"y2":19.98},
      {"x":19.15,"y":24.89,"x2":18.0,"y2":30.05},{"x":19.15,"y":24.89,"x2":24.67,"y2":27.83},{"x":19.15,"y":24.89,"x2":21.64,"y2":20.83},{"x":24.67,"y":27.83,"x2":22.57,"y2":30.65},
      {"x":24.67,"y":27.83,"x2":30.13,"y2":35},{"x":24.67,"y":27.83,"x2":29.95,"y2":27.6},{"x":24.67,"y":27.83,"x2":26.32,"y2":22.91},{"x":26.32,"y":22.91,"x2":30.3,"y2":24.2},
      {"x":26.32,"y":22.91,"x2":21.64,"y2":20.83},{"x":26.32,"y":22.91,"x2":27.43,"y2":19.79},{"x":27.43,"y":19.79,"x2":35,"y2":18.3},{"x":27.43,"y":19.79,"x2":25.96,"y2":17.05},
      {"x":21.64,"y":20.83,"x2":21.27,"y2":19.22},{"x":21.27,"y":19.22,"x2":16.76,"y2":17.61},{"x":21.27,"y":19.22,"x2":22.65,"y2":17.24},{"x":16.76,"y":17.61,"x2":15.66,"y2":19.98},
      {"x":16.76,"y":17.61,"x2":14.93,"y2":15.72},{"x":16.76,"y":17.61,"x2":19.25,"y2":13.45},{"x":15.66,"y":19.98,"x2":10.7,"y2":20.87},{"x":10.7,"y":20.87,"x2":6.38,"y2":23.1},
      {"x":10.7,"y":20.87,"x2":9.87,"y2":17.05},{"x":9.87,"y":17.05,"x2":6.01,"y2":16.38},{"x":9.87,"y":17.05,"x2":10.7,"y2":15.91},{"x":10.7,"y":15.91,"x2":14.93,"y2":15.72},
      {"x":10.7,"y":15.91,"x2":10.42,"y2":11.37},{"x":14.93,"y":15.72,"x2":15.02,"y2":10.62},{"x":19.25,"y":13.45,"x2":21.64,"y2":13.17},{"x":19.25,"y":13.45,"x2":16.31,"y2":10.05},
      {"x":22.65,"y":17.24,"x2":21.64,"y2":13.17},{"x":22.65,"y":17.24,"x2":25.96,"y2":17.05},{"x":21.64,"y":13.17,"x2":23.29,"y2":11.66},{"x":25.96,"y":17.05,"x2":26.97,"y2":14.87},
      {"x":26.97,"y":14.87,"x2":28.62,"y2":14.3},{"x":26.97,"y":14.87,"x2":23.29,"y2":11.66},{"x":28.62,"y":14.3,"x2":35,"y2":17.05},{"x":28.62,"y":14.3,"x2":28.71,"y2":10.81},
      {"x":28.71,"y":10.81,"x2":35,"y2":9.66},{"x":28.71,"y":10.81,"x2":26.78,"y2":9.2},{"x":23.29,"y":11.66,"x2":23.57,"y2":10.62},{"x":23.57,"y":10.62,"x2":26.78,"y2":9.2},
      {"x":23.57,"y":10.62,"x2":21.91,"y2":8.54},{"x":26.78,"y":9.2,"x2":27.52,"y2":6.46},{"x":27.52,"y":6.46,"x2":28.62,"y2":6.64},{"x":28.62,"y":6.64,"x2":35,"y2":7.79},
      {"x":28.62,"y":6.64,"x2":32.2,"y2":0},{"x":27.52,"y":6.46,"x2":24.39,"y2":2.92},{"x":21.91,"y":8.54,"x2":24.39,"y2":2.92},{"x":24.39,"y":2.92,"x2":23.3,"y2":0},
      {"x":21.91,"y":8.54,"x2":20.07,"y2":8.16},{"x":20.07,"y":8.16,"x2":16.31,"y2":10.05},{"x":20.07,"y":8.16,"x2":17.7,"y2":0},{"x":16.31,"y":10.05,"x2":15.02,"y2":10.62},
      {"x":16.31,"y":10.05,"x2":14.8,"y2":0},{"x":15.02,"y":10.62,"x2":11.53,"y2":10.52},{"x":10.42,"y":11.37,"x2":11.53,"y2":10.52},{"x":10.42,"y":11.37,"x2":7.11,"y2":11.03},
      {"x":11.53,"y":10.52,"x2":9.6,"y2":0},{"x":5.74,"y":6.55,"x2":9.6,"y2":0},{"x":7.11,"y":11.03,"x2":5.74,"y2":6.55},{"x":7.11,"y":11.03,"x2":4.58,"y2":13.01},
      {"x":6.01,"y":16.38,"x2":4.58,"y2":13.01},{"x":6.01,"y":16.38,"x2":4.18,"y2":18.65},{"x":6.38,"y":23.1,"x2":4.18,"y2":18.65},{"x":4.18,"y":18.65,"x2":0,"y2":18.9},
      {"x":4.58,"y":13.01,"x2":0,"y2":12.17},{"x":5.74,"y":6.55,"x2":0,"y2":7.85},{"x":1.95,"y":25.69,"x2":6.38,"y2":23.1},{"x":1.95,"y":25.69,"x2":0,"y2":25.61},
      {"x":1.95,"y":25.69,"x2":6.05,"y2":30.4},{"x":6.05,"y":30.4,"x2":4.33,"y2":35},{"x":6.05,"y":30.4,"x2":11.3,"y2":31.27},{"x":11.3,"y":31.27,"x2":12.46,"y2":35},
      {"x":18.0,"y":30.05,"x2":16.25,"y2":35},{"x":18.0,"y":30.05,"x2":22.57,"y2":30.65},{"x":22.57,"y":30.65,"x2":22.96,"y2":35},{"x":29.95,"y":27.6,"x2":35,"y2":33.53},
      {"x":29.95,"y":27.6,"x2":30.3,"y2":24.2},{"x":30.3,"y":24.2,"x2":35,"y2":22.2}
    ],
    "hist": [
      {"b0":0,"b1":0.0513,"mouse":0,"chemo":0,"expi":0},{"b0":0.0513,"b1":0.1026,"mouse":0,"chemo":0,"expi":0},
      {"b0":0.1026,"b1":0.1538,"mouse":0,"chemo":0,"expi":0},{"b0":0.1538,"b1":0.2051,"mouse":0,"chemo":0,"expi":0},
      {"b0":0.2051,"b1":0.2564,"mouse":0,"chemo":0,"expi":0},{"b0":0.2564,"b1":0.3077,"mouse":0,"chemo":0,"expi":0},
      {"b0":0.3077,"b1":0.359,"mouse":0,"chemo":0,"expi":0},{"b0":0.359,"b1":0.4103,"mouse":0.0015,"chemo":0,"expi":0},
      {"b0":0.4103,"b1":0.4615,"mouse":0.0015,"chemo":0,"expi":0},{"b0":0.4615,"b1":0.5128,"mouse":0.0037,"chemo":0,"expi":0},
      {"b0":0.5128,"b1":0.5641,"mouse":0.0014,"chemo":0,"expi":0},{"b0":0.5641,"b1":0.6154,"mouse":0.0075,"chemo":0,"expi":0},
      {"b0":0.6154,"b1":0.6667,"mouse":0.0137,"chemo":0.0031,"expi":0.0045},{"b0":0.6667,"b1":0.7179,"mouse":0.0463,"chemo":0.0179,"expi":0.0245},
      {"b0":0.7179,"b1":0.7692,"mouse":0.072,"chemo":0.0735,"expi":0.0818},{"b0":0.7692,"b1":0.8205,"mouse":0.0852,"chemo":0.0955,"expi":0.0863},
      {"b0":0.8205,"b1":0.8718,"mouse":0.0791,"chemo":0.0813,"expi":0.0883},{"b0":0.8718,"b1":0.9231,"mouse":0.0953,"chemo":0.0966,"expi":0.1039},
      {"b0":0.9231,"b1":0.9744,"mouse":0.0907,"chemo":0.0953,"expi":0.0953},{"b0":0.9744,"b1":1.0256,"mouse":0.0713,"chemo":0.0953,"expi":0.0751},
      {"b0":1.0256,"b1":1.0769,"mouse":0.0751,"chemo":0.0953,"expi":0.0953},{"b0":1.0769,"b1":1.1282,"mouse":0.0713,"chemo":0.0852,"expi":0.0818},
      {"b0":1.1282,"b1":1.1795,"mouse":0.0676,"chemo":0.084,"expi":0.0796},{"b0":1.1795,"b1":1.2308,"mouse":0.0676,"chemo":0.0826,"expi":0.0555},
      {"b0":1.2308,"b1":1.2821,"mouse":0.031,"chemo":0.0436,"expi":0.0419},{"b0":1.2821,"b1":1.3333,"mouse":0.033,"chemo":0.0298,"expi":0.0441},
      {"b0":1.3333,"b1":1.3846,"mouse":0.0218,"chemo":0.0192,"expi":0.031},{"b0":1.3846,"b1":1.4359,"mouse":0.0174,"chemo":0.0037,"expi":0.0112},
      {"b0":1.4359,"b1":1.4872,"mouse":0.0212,"chemo":0,"expi":0},{"b0":1.4872,"b1":1.5385,"mouse":0.0056,"chemo":0,"expi":0},
      {"b0":1.5385,"b1":1.5897,"mouse":0.0016,"chemo":0,"expi":0},{"b0":1.5897,"b1":1.641,"mouse":0.0037,"chemo":0,"expi":0},
      {"b0":1.641,"b1":1.6923,"mouse":0.0017,"chemo":0,"expi":0},{"b0":1.6923,"b1":1.7436,"mouse":0.0017,"chemo":0,"expi":0},
      {"b0":1.7436,"b1":1.7949,"mouse":0,"chemo":0,"expi":0},{"b0":1.7949,"b1":1.8462,"mouse":0,"chemo":0,"expi":0},
      {"b0":1.8462,"b1":1.8974,"mouse":0,"chemo":0,"expi":0},{"b0":1.8974,"b1":1.9487,"mouse":0,"chemo":0,"expi":0},
      {"b0":1.9487,"b1":2.0,"mouse":0,"chemo":0,"expi":0}
    ]
  },
  "bounds": "flush",
  "columns": 3,
  "spacing": {"row": 103.3, "column": 48},
  "resolve": {"scale": {"color": "independent", "shape": "independent", "size": "independent"}},
  "concat": [
    {
      "width": 453, "height": 452,
      "view": {"fill": "#fafdfa", "stroke": "#1a1a1a", "strokeWidth": 2.5},
      "layer": [
        {
          "data": {"name": "edgesAB"},
          "mark": {"type": "rule", "color": "#8a8a8a", "strokeWidth": 1.6},
          "encoding": {
            "x": {"field": "x", "type": "quantitative", "scale": {"domain": [0, 35], "nice": false, "zero": false},
              "axis": {"values": [0, 35], "title": "x̄", "titleFont": "Liberation Serif", "titleFontSize": 34, "titleFontStyle": "italic", "titleFontWeight": "normal", "titlePadding": -12, "labelPadding": 7}},
            "y": {"field": "y", "type": "quantitative", "scale": {"domain": [0, 35], "nice": false, "zero": false},
              "axis": {"values": [0, 35], "title": "ȳ", "titleAngle": 0, "titleFont": "Liberation Serif", "titleFontSize": 34, "titleFontStyle": "italic", "titleFontWeight": "normal", "titleX": -31, "titleY": 222, "titleAlign": "center", "titleBaseline": "middle", "labelPadding": 9}},
            "x2": {"field": "x2"}, "y2": {"field": "y2"}
          }
        },
        {
          "data": {"name": "spotsAB"},
          "mark": {"type": "point", "filled": true, "shape": "circle", "size": 1000, "color": "#9be69b", "opacity": 0.55, "clip": true},
          "encoding": {"x": {"field": "x", "type": "quantitative"}, "y": {"field": "y", "type": "quantitative"}}
        },
        {
          "data": {"name": "spotsAB"},
          "mark": {"type": "point", "filled": true, "shape": "circle", "size": 780, "color": "#3fbf48", "opacity": 1, "clip": true},
          "encoding": {"x": {"field": "x", "type": "quantitative"}, "y": {"field": "y", "type": "quantitative"}}
        },
        {
          "data": {"name": "spotsAB"},
          "mark": {"type": "point", "filled": true, "shape": "circle", "size": 480, "color": "#1d6a2b", "opacity": 1, "clip": true},
          "encoding": {"x": {"field": "x", "type": "quantitative"}, "y": {"field": "y", "type": "quantitative"}}
        },
        {
          "data": {"name": "spotsAB"},
          "transform": [{"filter": "datum.k == 'c'"}],
          "mark": {"type": "point", "filled": true, "shape": "cross", "size": 170, "color": "#f3b636", "opacity": 1, "clip": true},
          "encoding": {"x": {"field": "x", "type": "quantitative"}, "y": {"field": "y", "type": "quantitative"}}
        },
        {
          "data": {"name": "spotsAB"},
          "mark": {"type": "point", "filled": true, "shape": "circle", "size": 55, "color": "#d4161c", "opacity": 1, "clip": true},
          "encoding": {"x": {"field": "x", "type": "quantitative"}, "y": {"field": "y", "type": "quantitative"}}
        },
        {
          "data": {"values": [{"x": 23.94, "x2": 33.96, "y": 0.89, "y2": 1.84}]},
          "mark": {"type": "rect", "color": "black"},
          "encoding": {"x": {"field": "x", "type": "quantitative"}, "x2": {"field": "x2"}, "y": {"field": "y", "type": "quantitative"}, "y2": {"field": "y2"}}
        },
        {
          "data": {"values": [{}]},
          "mark": {"type": "text", "text": "α  =  7.5,  t  =  0,  L₀  =  35", "font": "Liberation Serif", "fontSize": 31, "align": "center", "baseline": "alphabetic", "color": "black"},
          "encoding": {"x": {"datum": 18.2, "type": "quantitative"}, "y": {"datum": 36.53, "type": "quantitative"}}
        },
        {
          "data": {"values": [{}]},
          "mark": {"type": "text", "text": "A", "font": "Liberation Sans", "fontSize": 46, "align": "left", "baseline": "top", "color": "black"},
          "encoding": {"x": {"datum": -3.555, "type": "quantitative"}, "y": {"datum": 39.78, "type": "quantitative"}}
        }
      ]
    },
    {
      "width": 453, "height": 452,
      "view": {"fill": "#f5fbf5", "stroke": "#1a1a1a", "strokeWidth": 2.5},
      "layer": [
        {
          "data": {"name": "edgesAB"},
          "mark": {"type": "rule", "color": "#8a8a8a", "strokeWidth": 1.6},
          "encoding": {
            "x": {"field": "x", "type": "quantitative", "scale": {"domain": [0, 35], "nice": false, "zero": false},
              "axis": {"values": [0, 35], "title": null, "labelPadding": 7}},
            "y": {"field": "y", "type": "quantitative", "scale": {"domain": [0, 35], "nice": false, "zero": false},
              "axis": {"values": [0, 35], "title": null, "labelPadding": 9}},
            "x2": {"field": "x2"}, "y2": {"field": "y2"}
          }
        },
        {
          "data": {"name": "dotsB"},
          "mark": {"type": "point", "filled": true, "shape": "circle", "opacity": 1, "clip": true},
          "encoding": {
            "x": {"field": "x", "type": "quantitative"}, "y": {"field": "y", "type": "quantitative"},
            "size": {"field": "m", "type": "quantitative", "scale": {"domain": [11, 17], "range": [45, 105]}, "legend": null},
            "color": {"field": "m", "type": "quantitative",
              "scale": {"domain": [0.15, 2, 5, 9, 14, 20.45], "range": ["#ffffff", "#d3efcf", "#7fd37f", "#26bb26", "#1a8a2a", "#2c5b36"], "zero": false, "nice": false},
              "legend": {"orient": "none", "legendX": 474, "legendY": -44, "title": "m", "titleFont": "Liberation Serif", "titleFontStyle": "italic", "titleFontWeight": "normal", "titleFontSize": 40, "titlePadding": 4, "titleColor": "#111",
                "gradientLength": 452, "gradientThickness": 21, "gradientStrokeColor": "#222", "gradientStrokeWidth": 1.5, "values": [4, 8, 12, 16, 20],
                "labelFontSize": 16, "labelOffset": 6, "labelOverlap": false, "labelColor": "#222", "direction": "vertical", "padding": 0}}
          }
        },
        {
          "data": {"name": "spotsAB"},
          "transform": [{"filter": "datum.k != 'e'"}],
          "mark": {"type": "point", "filled": true, "shape": "circle", "size": 110, "color": "#23722f", "opacity": 1, "clip": true},
          "encoding": {"x": {"field": "x", "type": "quantitative"}, "y": {"field": "y", "type": "quantitative"}}
        },
        {
          "data": {"name": "spotsAB"},
          "transform": [{"filter": "datum.k == 'c'"}],
          "mark": {"type": "point", "filled": true, "shape": "cross", "size": 110, "color": "#f3b636", "opacity": 1, "clip": true},
          "encoding": {"x": {"field": "x", "type": "quantitative"}, "y": {"field": "y", "type": "quantitative"}}
        },
        {
          "data": {"name": "spotsAB"},
          "mark": {"type": "point", "filled": true, "shape": "circle", "size": 50, "color": "#d4161c", "opacity": 1, "clip": true},
          "encoding": {"x": {"field": "x", "type": "quantitative"}, "y": {"field": "y", "type": "quantitative"}}
        },
        {
          "data": {"values": [{"x": 30.36, "x2": 33.81, "y": 0.71, "y2": 1.59}]},
          "mark": {"type": "rect", "color": "black"},
          "encoding": {"x": {"field": "x", "type": "quantitative"}, "x2": {"field": "x2"}, "y": {"field": "y", "type": "quantitative"}, "y2": {"field": "y2"}}
        },
        {
          "data": {"values": [{}]},
          "mark": {"type": "text", "text": "t  =  tg,    L  =  105", "font": "Liberation Serif", "fontSize": 31, "align": "center", "baseline": "alphabetic", "color": "black"},
          "encoding": {"x": {"datum": 18.23, "type": "quantitative"}, "y": {"datum": 36.53, "type": "quantitative"}}
        },
        {
          "data": {"values": [{}]},
          "mark": {"type": "text", "text": "B", "font": "Liberation Sans", "fontSize": 46, "align": "left", "baseline": "top", "color": "black"},
          "encoding": {"x": {"datum": -3.01, "type": "quantitative"}, "y": {"datum": 39.78, "type": "quantitative"}}
        }
      ]
    },
    {
      "width": 514, "height": 452,
      "layer": [
        {
          "data": {"name": "edgesC"},
          "mark": {"type": "rule", "color": "#7a7a7a", "strokeWidth": 1.6},
          "encoding": {
            "x": {"field": "x", "type": "quantitative", "scale": {"domain": [-4.8, 35], "nice": false, "zero": false},
              "axis": {"values": [0, 35], "title": null, "labelPadding": 7}},
            "y": {"field": "y", "type": "quantitative", "scale": {"domain": [0, 35], "nice": false, "zero": false},
              "axis": {"values": [0, 35], "title": null, "labelPadding": 12, "offset": -62}},
            "x2": {"field": "x2"}, "y2": {"field": "y2"}
          }
        },
        {
          "data": {"values": [{"v": 4.44}, {"v": 30.53}]},
          "mark": {"type": "rule", "color": "#9a9a9a", "strokeWidth": 1.8, "strokeDash": [9, 6]},
          "encoding": {"x": {"field": "v", "type": "quantitative"}, "y": {"datum": 0, "type": "quantitative"}, "y2": {"datum": 35}}
        },
        {
          "data": {"values": [{"v": 30.63}, {"v": 4.5}]},
          "mark": {"type": "rule", "color": "#9a9a9a", "strokeWidth": 1.8, "strokeDash": [9, 6]},
          "encoding": {"y": {"field": "v", "type": "quantitative"}, "x": {"datum": 0, "type": "quantitative"}, "x2": {"datum": 35}}
        },
        {
          "data": {"name": "mS"},
          "mark": {"type": "point", "filled": false, "shape": "circle", "size": 64, "strokeWidth": 1.6, "color": "#f0a030", "opacity": 1},
          "encoding": {"x": {"field": "x", "type": "quantitative"}, "y": {"field": "y", "type": "quantitative"}}
        },
        {
          "data": {"name": "mP"},
          "mark": {"type": "point", "filled": true, "shape": "cross", "size": 210, "color": "#e05a1e", "opacity": 1},
          "encoding": {"x": {"field": "x", "type": "quantitative"}, "y": {"field": "y", "type": "quantitative"}}
        },
        {
          "data": {"values": [{"x": 0, "x2": 35, "y": 0, "y2": 35}]},
          "mark": {"type": "rect", "filled": false, "color": "#222", "strokeWidth": 3},
          "encoding": {"x": {"field": "x", "type": "quantitative"}, "x2": {"field": "x2"}, "y": {"field": "y", "type": "quantitative"}, "y2": {"field": "y2"}}
        },
        {
          "data": {"values": [{}]},
          "mark": {"type": "text", "text": "Laboratory Mouse Data", "font": "Liberation Sans", "fontSize": 28, "align": "center", "baseline": "alphabetic", "color": "black"},
          "encoding": {"x": {"datum": 17.27, "type": "quantitative"}, "y": {"datum": 36.53, "type": "quantitative"}}
        },
        {
          "data": {"values": [{}]},
          "mark": {"type": "text", "text": "C", "font": "Liberation Sans", "fontSize": 46, "align": "left", "baseline": "top", "color": "black"},
          "encoding": {"x": {"datum": -3.74, "type": "quantitative"}, "y": {"datum": 39.78, "type": "quantitative"}}
        }
      ]
    },
    {
      "width": 453, "height": 453,
      "view": {"fill": "white", "stroke": "#333", "strokeWidth": 3},
      "layer": [
        {
          "data": {"name": "edgesC"},
          "mark": {"type": "rule", "color": "#7a7a7a", "strokeWidth": 1.8, "clip": true},
          "encoding": {
            "x": {"field": "x", "type": "quantitative", "scale": {"domain": [5, 30], "nice": false, "zero": false},
              "axis": {"values": [5, 17.5, 30], "format": "~g", "labelExpr": "format(datum.value, '~g')", "title": null, "labelPadding": 7, "labelFontSize": 17}},
            "y": {"field": "y", "type": "quantitative", "scale": {"domain": [5, 30], "nice": false, "zero": false},
              "axis": {"values": [5, 17.5, 30], "format": "~g", "labelExpr": "format(datum.value, '~g')", "title": null, "labelPadding": 10, "labelFontSize": 17}},
            "x2": {"field": "x2"}, "y2": {"field": "y2"}
          }
        },
        {
          "data": {"name": "chem"},
          "transform": [{"filter": "isValid(datum.mx)"}],
          "mark": {"type": "rule", "color": "#5cb82e", "strokeWidth": 2.6, "clip": true},
          "encoding": {"x": {"field": "x", "type": "quantitative"}, "y": {"field": "y", "type": "quantitative"}, "x2": {"field": "mx"}, "y2": {"field": "my"}}
        },
        {
          "data": {"name": "mS"},
          "mark": {"type": "point", "filled": false, "shape": "circle", "size": 120, "strokeWidth": 2.3, "color": "#f0a030", "opacity": 1, "clip": true},
          "encoding": {"x": {"field": "x", "type": "quantitative"}, "y": {"field": "y", "type": "quantitative"}}
        },
        {
          "data": {"name": "chem"},
          "mark": {"type": "point", "filled": false, "shape": "circle", "size": 120, "strokeWidth": 2.3, "color": "#5cb82e", "opacity": 1, "clip": true},
          "encoding": {"x": {"field": "x", "type": "quantitative"}, "y": {"field": "y", "type": "quantitative"}}
        },
        {
          "data": {"name": "mP"},
          "mark": {"type": "point", "filled": false, "size": 450, "strokeWidth": 4.5, "opacity": 1, "clip": true},
          "encoding": {
            "x": {"field": "x", "type": "quantitative"},
            "y": {"field": "y", "type": "quantitative"},
            "color": {"datum": "Data primary", "type": "nominal",
              "scale": {"domain": ["Data primary", "Data secondary", "Chem. match", "Chemotaxis sec.", "E-I model sec.", "E-I match"],
                "range": ["#e05a1e", "#f0a030", "#5cb82e", "#5cb82e", "#4a90ec", "#4a90ec"]},
              "legend": {"orient": "none", "legendX": 977, "legendY": -65, "columns": 3, "title": null, "direction": "horizontal",
                "padding": 8, "strokeColor": "#222", "labelFont": "Liberation Sans", "labelFontSize": 19.5, "labelColor": "#111",
                "labelOffset": 0, "symbolSize": 900, "symbolStrokeWidth": 3.5, "rowPadding": 2, "columnPadding": 8, "labelLimit": 300}},
            "shape": {"datum": "Data primary", "type": "nominal",
              "scale": {"domain": ["Data primary", "Data secondary", "Chem. match", "Chemotaxis sec.", "E-I model sec.", "E-I match"],
                "range": ["M-0.66,0H0.66M0,-0.66V0.66",
                  "M0.45,0A0.45,0.45,0,1,1,-0.45,0A0.45,0.45,0,1,1,0.45,0Z",
                  "M0.55,-0.62A0.3,0.3,0,1,1,-0.05,-0.62A0.3,0.3,0,1,1,0.55,-0.62ZM0.12,-0.33L-0.12,0.33M0.05,0.62A0.3,0.3,0,1,1,-0.55,0.62A0.3,0.3,0,1,1,0.05,0.62Z",
                  "M0.45,0A0.45,0.45,0,1,1,-0.45,0A0.45,0.45,0,1,1,0.45,0Z",
                  "M0.45,0A0.45,0.45,0,1,1,-0.45,0A0.45,0.45,0,1,1,0.45,0Z",
                  "M0.55,-0.62A0.3,0.3,0,1,1,-0.05,-0.62A0.3,0.3,0,1,1,0.55,-0.62ZM0.12,-0.33L-0.12,0.33M0.05,0.62A0.3,0.3,0,1,1,-0.55,0.62A0.3,0.3,0,1,1,0.05,0.62Z"]},
              "legend": {"orient": "none", "legendX": 977, "legendY": -65, "columns": 3, "title": null, "direction": "horizontal",
                "padding": 8, "strokeColor": "#222", "labelFont": "Liberation Sans", "labelFontSize": 19.5, "labelColor": "#111",
                "labelOffset": 0, "symbolSize": 900, "symbolStrokeWidth": 3.5, "rowPadding": 2, "columnPadding": 8, "labelLimit": 300}}
          }
        },
        {
          "data": {"values": [{}]},
          "mark": {"type": "text", "text": "Data vs. Chemotaxis model", "font": "Liberation Sans", "fontSize": 29, "align": "center", "baseline": "alphabetic", "color": "black"},
          "encoding": {"x": {"datum": 17.2, "type": "quantitative"}, "y": {"datum": 31.32, "type": "quantitative"}}
        },
        {
          "data": {"values": [{}]},
          "mark": {"type": "text", "text": "D", "font": "Liberation Sans", "fontSize": 46, "align": "left", "baseline": "top", "color": "black"},
          "encoding": {"x": {"datum": 2.555, "type": "quantitative"}, "y": {"datum": 32.94, "type": "quantitative"}}
        }
      ]
    },
    {
      "width": 453, "height": 453,
      "view": {"fill": "white", "stroke": "#333", "strokeWidth": 3},
      "layer": [
        {
          "data": {"name": "edgesC"},
          "mark": {"type": "rule", "color": "#7a7a7a", "strokeWidth": 1.8, "clip": true},
          "encoding": {
            "x": {"field": "x", "type": "quantitative", "scale": {"domain": [5, 30], "nice": false, "zero": false},
              "axis": {"values": [5, 17.5, 30], "format": "~g", "labelExpr": "format(datum.value, '~g')", "title": null, "labelPadding": 7, "labelFontSize": 17}},
            "y": {"field": "y", "type": "quantitative", "scale": {"domain": [5, 30], "nice": false, "zero": false},
              "axis": {"values": [5, 17.5, 30], "format": "~g", "labelExpr": "format(datum.value, '~g')", "title": null, "labelPadding": 10, "labelFontSize": 17}},
            "x2": {"field": "x2"}, "y2": {"field": "y2"}
          }
        },
        {
          "data": {"name": "ei"},
          "transform": [{"filter": "isValid(datum.mx)"}],
          "mark": {"type": "rule", "color": "#4a90ec", "strokeWidth": 2.6, "clip": true},
          "encoding": {"x": {"field": "x", "type": "quantitative"}, "y": {"field": "y", "type": "quantitative"}, "x2": {"field": "mx"}, "y2": {"field": "my"}}
        },
        {
          "data": {"name": "mS"},
          "mark": {"type": "point", "filled": false, "shape": "circle", "size": 120, "strokeWidth": 2.3, "color": "#f0a030", "opacity": 1, "clip": true},
          "encoding": {"x": {"field": "x", "type": "quantitative"}, "y": {"field": "y", "type": "quantitative"}}
        },
        {
          "data": {"name": "ei"},
          "mark": {"type": "point", "filled": false, "shape": "circle", "size": 120, "strokeWidth": 2.3, "color": "#4a90ec", "opacity": 1, "clip": true},
          "encoding": {"x": {"field": "x", "type": "quantitative"}, "y": {"field": "y", "type": "quantitative"}}
        },
        {
          "data": {"name": "mP"},
          "mark": {"type": "point", "filled": false, "shape": "M-0.66,0H0.66M0,-0.66V0.66", "size": 450, "strokeWidth": 4.5, "color": "#e05a1e", "opacity": 1, "clip": true},
          "encoding": {"x": {"field": "x", "type": "quantitative"}, "y": {"field": "y", "type": "quantitative"}}
        },
        {
          "data": {"values": [{}]},
          "mark": {"type": "text", "text": "Data vs. Exp. induction model", "font": "Liberation Sans", "fontSize": 29, "align": "center", "baseline": "alphabetic", "color": "black"},
          "encoding": {"x": {"datum": 17.42, "type": "quantitative"}, "y": {"datum": 31.32, "type": "quantitative"}}
        },
        {
          "data": {"values": [{}]},
          "mark": {"type": "text", "text": "E", "font": "Liberation Sans", "fontSize": 46, "align": "left", "baseline": "top", "color": "black"},
          "encoding": {"x": {"datum": 2.85, "type": "quantitative"}, "y": {"datum": 32.94, "type": "quantitative"}}
        }
      ]
    },
    {
      "width": 515.3, "height": 426.7,
      "layer": [
        {
          "data": {"name": "hist"},
          "mark": {"type": "rect", "color": "#f2dcaa"},
          "encoding": {
            "x": {"field": "b0", "type": "quantitative", "scale": {"domain": [-0.1324, 2], "nice": false, "zero": false},
              "axis": {"values": [0, 0.5, 1, 1.5, 2], "format": "~g", "title": "Normalized n.n distance", "titleFontSize": 24, "titleFontWeight": "normal", "titlePadding": 2,
                "labelFontSize": 17, "labelPadding": 6, "titleX": 274}},
            "x2": {"field": "b1"},
            "y": {"field": "mouse", "type": "quantitative", "scale": {"domain": [0, 0.1994], "nice": false},
              "axis": {"values": [0, 0.05, 0.1, 0.15], "format": "~g", "title": "Frequency", "titleFontSize": 24, "titleFontWeight": "normal", "titlePadding": 4, "titleY": 257,
                "labelFontSize": 17, "labelPadding": 5, "offset": -32}},
            "y2": {"datum": 0}
          }
        },
        {
          "data": {"values": [{"a": 0, "b": 2}]},
          "mark": {"type": "rule", "color": "#111", "strokeWidth": 3},
          "encoding": {"x": {"field": "a", "type": "quantitative"}, "x2": {"field": "b"}, "y": {"datum": 0, "type": "quantitative"}}
        },
        {
          "data": {"name": "hist"},
          "mark": {"type": "rect", "filled": false, "strokeWidth": 3, "color": "#5cc02c"},
          "encoding": {"x": {"field": "b0", "type": "quantitative"}, "x2": {"field": "b1"}, "y": {"field": "chemo", "type": "quantitative"}, "y2": {"datum": 0}}
        },
        {
          "data": {"name": "hist"},
          "mark": {"type": "rect", "filled": false, "strokeWidth": 2.5, "opacity": 0.85, "color": "#4b4bee"},
          "encoding": {"x": {"field": "b0", "type": "quantitative"}, "x2": {"field": "b1"}, "y": {"field": "expi", "type": "quantitative"}, "y2": {"datum": 0}}
        },
        {
          "data": {"values": [{"a": 0, "b": 0.15}]},
          "mark": {"type": "rule", "color": "#111", "strokeWidth": 3},
          "encoding": {"x": {"datum": 0, "type": "quantitative"}, "y": {"field": "a", "type": "quantitative"}, "y2": {"field": "b"}}
        },
        {
          "data": {"values": [{"x": 0.1245, "x2": 2.004, "y": 0.1187, "y2": 0.1667}]},
          "mark": {"type": "rect", "filled": false, "color": "#111", "strokeWidth": 2.5},
          "encoding": {"x": {"field": "x", "type": "quantitative"}, "x2": {"field": "x2"}, "y": {"field": "y", "type": "quantitative"}, "y2": {"field": "y2"}}
        },
        {
          "data": {"values": [
            {"x": 0.471, "y": 0.1522, "x2": 1.647, "y2": 0.1522}, {"x": 0.471, "y": 0.1522, "x2": 0.471, "y2": 0.1308}, {"x": 1.647, "y": 0.1522, "x2": 1.647, "y2": 0.1308},
            {"x": 0.545, "y": 0.1376, "x2": 0.977, "y2": 0.1376}, {"x": 0.545, "y": 0.1376, "x2": 0.545, "y2": 0.1308}, {"x": 0.977, "y": 0.1376, "x2": 0.977, "y2": 0.1308},
            {"x": 1.146, "y": 0.1376, "x2": 1.579, "y2": 0.1376}, {"x": 1.146, "y": 0.1376, "x2": 1.146, "y2": 0.1308}, {"x": 1.579, "y": 0.1376, "x2": 1.579, "y2": 0.1308}
          ]},
          "mark": {"type": "rule", "color": "#111", "strokeWidth": 2},
          "encoding": {"x": {"field": "x", "type": "quantitative"}, "x2": {"field": "x2"}, "y": {"field": "y", "type": "quantitative"}, "y2": {"field": "y2"}}
        },
        {
          "data": {"values": [{"x": 1.062, "y": 0.1583, "t": "N . S"}, {"x": 0.758, "y": 0.1433, "t": "N . S"}, {"x": 1.364, "y": 0.1433, "t": "N . S"}]},
          "mark": {"type": "text", "font": "Liberation Serif", "fontSize": 20, "fontWeight": "bold", "color": "#111", "baseline": "middle"},
          "encoding": {"x": {"field": "x", "type": "quantitative"}, "y": {"field": "y", "type": "quantitative"}, "text": {"field": "t"}}
        },
        {
          "data": {"values": [{"s": "Chemotaxis"}, {"s": "Mouse data"}, {"s": "Exp. induction"}]},
          "mark": {"type": "point", "filled": false, "size": 625, "strokeWidth": 3, "opacity": 1, "clip": true},
          "encoding": {
            "x": {"datum": -1, "type": "quantitative"},
            "y": {"datum": 0.05, "type": "quantitative"},
            "color": {"field": "s", "type": "nominal",
              "scale": {"domain": ["Chemotaxis", "Mouse data", "Exp. induction"], "range": ["#5cc02c", "#f2dcaa", "#4b4bee"]},
              "legend": {"orient": "none", "legendX": 64, "legendY": 144, "direction": "horizontal", "title": null,
                "labelFont": "Liberation Sans", "labelFontSize": 17.5, "labelColor": "#111", "labelOffset": 2, "columnPadding": 25, "symbolSize": 625, "symbolStrokeWidth": 3, "padding": 0}},
            "shape": {"field": "s", "type": "nominal",
              "scale": {"domain": ["Chemotaxis", "Mouse data", "Exp. induction"],
                "range": ["M-0.55,-1H0.55V1H-0.55Z", "M-0.5,-1V1M-0.3,-1V1M-0.1,-1V1M0.1,-1V1M0.3,-1V1M0.5,-1V1", "M-0.55,-1H0.55V1H-0.55Z"]},
              "legend": {"orient": "none", "legendX": 64, "legendY": 144, "direction": "horizontal", "title": null,
                "labelFont": "Liberation Sans", "labelFontSize": 17.5, "labelColor": "#111", "labelOffset": 2, "columnPadding": 25, "symbolSize": 625, "symbolStrokeWidth": 3, "padding": 0}}
          }
        },
        {
          "data": {"values": [{}]},
          "mark": {"type": "text", "text": "F", "font": "Liberation Sans", "fontSize": 46, "align": "left", "baseline": "top", "color": "black"},
          "encoding": {"x": {"datum": -0.245, "type": "quantitative"}, "y": {"datum": 0.177, "type": "quantitative"}}
        }
      ]
    }
  ]
}
